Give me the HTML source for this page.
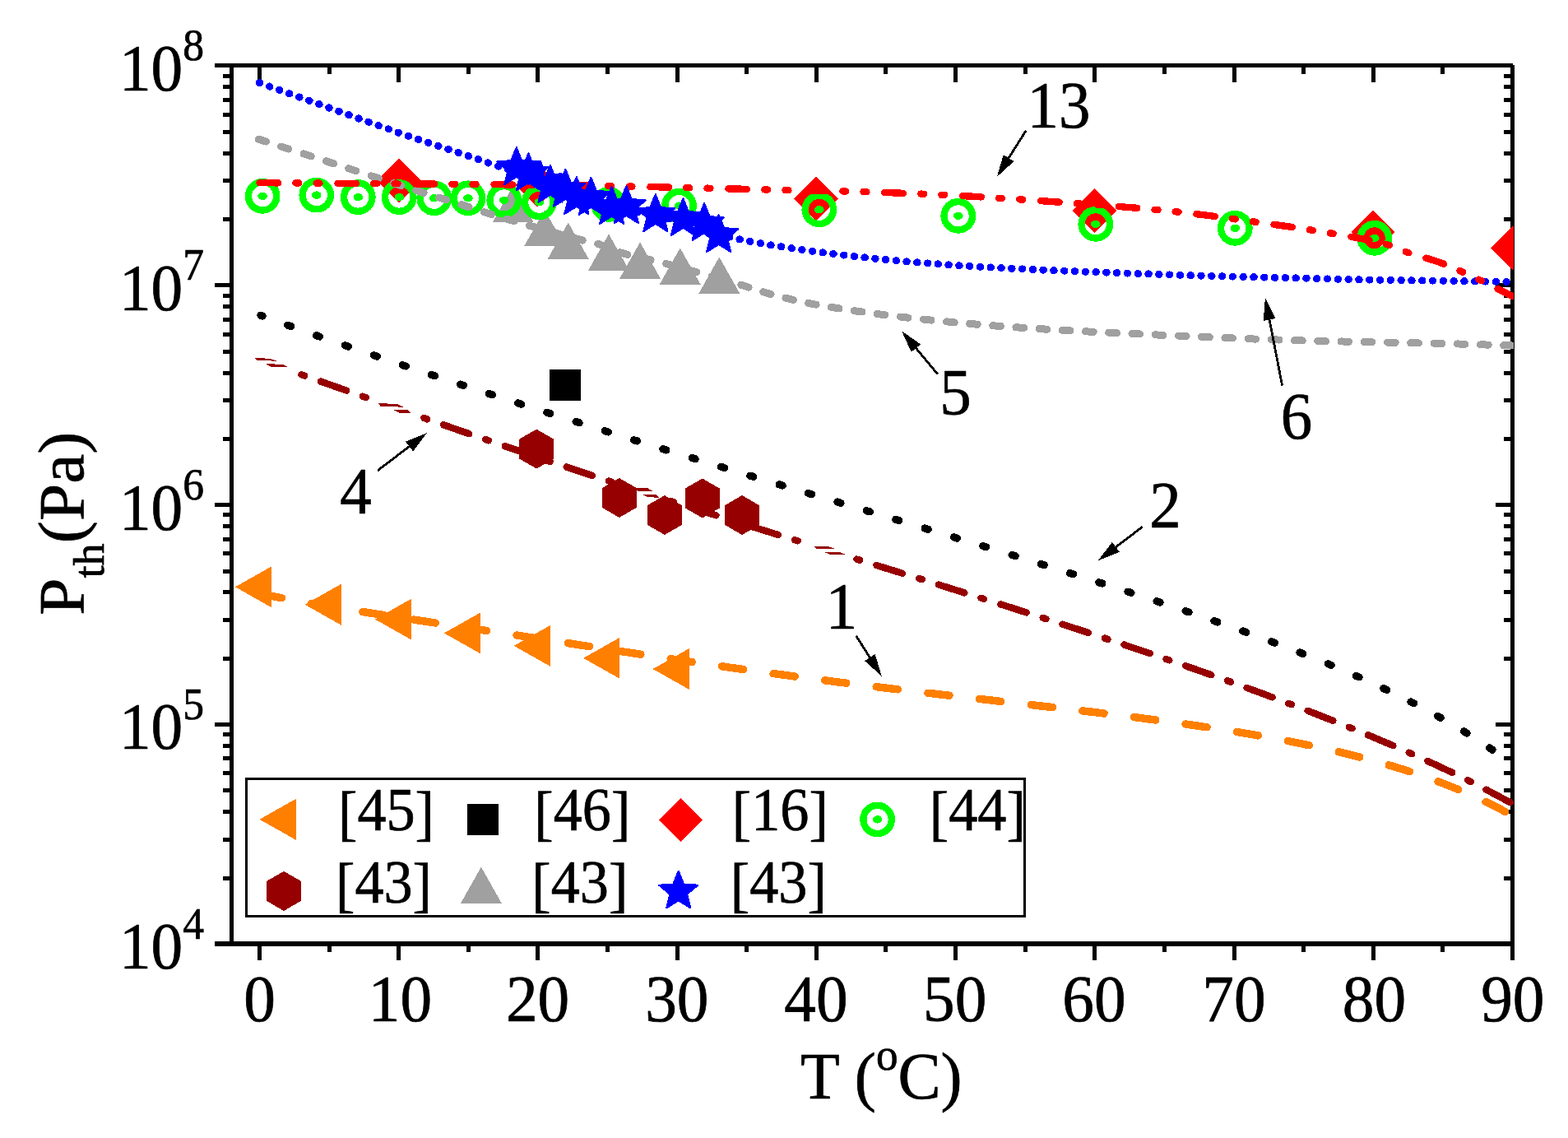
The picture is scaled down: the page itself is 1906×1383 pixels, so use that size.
<!DOCTYPE html>
<html lang="en"><head><meta charset="utf-8"><title>P_th (Pa) versus T</title>
<style>
html,body{margin:0;padding:0;background:#fff;}
body{width:1906px;height:1383px;overflow:hidden;}
svg{display:block;}
text{font-family:"Liberation Serif","Times New Roman",serif;fill:#000;stroke:#000;stroke-width:0.7px;stroke-linejoin:round;}
.tick{font-size:81px;}
.sup{font-size:54px;}
.leg{font-size:74.3px;}
.ann{font-size:81px;}
.ttl{font-size:79.3px;}
.ln{fill:none;stroke-linecap:round;stroke-linejoin:round;}
</style></head><body>
<svg width="1906" height="1383" viewBox="0 0 1906 1383">
<rect width="1906" height="1383" fill="#fff"/>
<defs>
<clipPath id="plot"><rect x="280" y="78" width="1560.1" height="1070"/></clipPath>
<polygon id="ltri" points="-29.53,0 14.77,-25.00 14.77,25.00"/>
<polygon id="utri" points="0,-29.53 25.00,14.77 -25.00,14.77"/>
<polygon id="dia" points="0,-26.7 26.7,0 0,26.7 -26.7,0"/>
<polygon id="lhex" points="0.00,-24.10 20.87,-12.05 20.87,12.05 0.00,24.10 -20.87,12.05 -20.87,-12.05"/>
<polygon id="hex" points="0.00,-24.00 20.78,-12.00 20.78,12.00 0.00,24.00 -20.78,12.00 -20.78,-12.00"/>
<polygon id="star" stroke="#0000ff" stroke-width="2.2" stroke-linejoin="round" points="0.00,-24.70 6.39,-8.79 23.49,-7.63 10.34,3.36 14.52,19.98 0.00,10.87 -14.52,19.98 -10.34,3.36 -23.49,-7.63 -6.39,-8.79"/>
<g id="circ"><circle r="17.2" fill="none" stroke="#00ff00" stroke-width="8.4"/><ellipse rx="5.8" ry="4.7" fill="#00ff00"/></g>
</defs>

<g fill="#000" shape-rendering="crispEdges">
<rect x="261.0" y="77.0" width="1578.0" height="5.0"/>
<rect x="261.0" y="1144.0" width="1580.0" height="6.0"/>
<rect x="279.0" y="77.0" width="5.0" height="1073.0"/>
<rect x="1836.0" y="79.0" width="5.0" height="1088.0"/>
<rect x="313.0" y="1150.0" width="5.0" height="17.0"/>
<rect x="313.0" y="82.0" width="5.0" height="18.0"/>
<rect x="398.0" y="1150.0" width="5.0" height="7.0"/>
<rect x="398.0" y="82.0" width="5.0" height="8.0"/>
<rect x="482.0" y="1150.0" width="5.0" height="17.0"/>
<rect x="482.0" y="82.0" width="5.0" height="18.0"/>
<rect x="567.0" y="1150.0" width="5.0" height="7.0"/>
<rect x="567.0" y="82.0" width="5.0" height="8.0"/>
<rect x="651.0" y="1150.0" width="5.0" height="17.0"/>
<rect x="651.0" y="82.0" width="5.0" height="18.0"/>
<rect x="736.0" y="1150.0" width="5.0" height="7.0"/>
<rect x="736.0" y="82.0" width="5.0" height="8.0"/>
<rect x="821.0" y="1150.0" width="5.0" height="17.0"/>
<rect x="821.0" y="82.0" width="5.0" height="18.0"/>
<rect x="905.0" y="1150.0" width="5.0" height="7.0"/>
<rect x="905.0" y="82.0" width="5.0" height="8.0"/>
<rect x="990.0" y="1150.0" width="5.0" height="17.0"/>
<rect x="990.0" y="82.0" width="5.0" height="18.0"/>
<rect x="1074.0" y="1150.0" width="5.0" height="7.0"/>
<rect x="1074.0" y="82.0" width="5.0" height="8.0"/>
<rect x="1159.0" y="1150.0" width="5.0" height="17.0"/>
<rect x="1159.0" y="82.0" width="5.0" height="18.0"/>
<rect x="1244.0" y="1150.0" width="5.0" height="7.0"/>
<rect x="1244.0" y="82.0" width="5.0" height="8.0"/>
<rect x="1328.0" y="1150.0" width="5.0" height="17.0"/>
<rect x="1328.0" y="82.0" width="5.0" height="18.0"/>
<rect x="1413.0" y="1150.0" width="5.0" height="7.0"/>
<rect x="1413.0" y="82.0" width="5.0" height="8.0"/>
<rect x="1498.0" y="1150.0" width="5.0" height="17.0"/>
<rect x="1498.0" y="82.0" width="5.0" height="18.0"/>
<rect x="1582.0" y="1150.0" width="5.0" height="7.0"/>
<rect x="1582.0" y="82.0" width="5.0" height="8.0"/>
<rect x="1667.0" y="1150.0" width="5.0" height="17.0"/>
<rect x="1667.0" y="82.0" width="5.0" height="18.0"/>
<rect x="1751.0" y="1150.0" width="5.0" height="7.0"/>
<rect x="1751.0" y="82.0" width="5.0" height="8.0"/>
<rect x="271.0" y="1065.0" width="8.0" height="5.0"/>
<rect x="1828.0" y="1065.0" width="8.0" height="5.0"/>
<rect x="271.0" y="1018.0" width="8.0" height="5.0"/>
<rect x="1828.0" y="1018.0" width="8.0" height="5.0"/>
<rect x="271.0" y="984.0" width="8.0" height="5.0"/>
<rect x="1828.0" y="984.0" width="8.0" height="5.0"/>
<rect x="271.0" y="958.0" width="8.0" height="5.0"/>
<rect x="1828.0" y="958.0" width="8.0" height="5.0"/>
<rect x="271.0" y="937.0" width="8.0" height="5.0"/>
<rect x="1828.0" y="937.0" width="8.0" height="5.0"/>
<rect x="271.0" y="919.0" width="8.0" height="5.0"/>
<rect x="1828.0" y="919.0" width="8.0" height="5.0"/>
<rect x="271.0" y="904.0" width="8.0" height="5.0"/>
<rect x="1828.0" y="904.0" width="8.0" height="5.0"/>
<rect x="271.0" y="890.0" width="8.0" height="5.0"/>
<rect x="1828.0" y="890.0" width="8.0" height="5.0"/>
<rect x="261.0" y="878.0" width="18.0" height="5.0"/>
<rect x="1818.0" y="878.0" width="18.0" height="5.0"/>
<rect x="271.0" y="798.0" width="8.0" height="5.0"/>
<rect x="1828.0" y="798.0" width="8.0" height="5.0"/>
<rect x="271.0" y="751.0" width="8.0" height="5.0"/>
<rect x="1828.0" y="751.0" width="8.0" height="5.0"/>
<rect x="271.0" y="717.0" width="8.0" height="5.0"/>
<rect x="1828.0" y="717.0" width="8.0" height="5.0"/>
<rect x="271.0" y="692.0" width="8.0" height="5.0"/>
<rect x="1828.0" y="692.0" width="8.0" height="5.0"/>
<rect x="271.0" y="670.0" width="8.0" height="5.0"/>
<rect x="1828.0" y="670.0" width="8.0" height="5.0"/>
<rect x="271.0" y="653.0" width="8.0" height="5.0"/>
<rect x="1828.0" y="653.0" width="8.0" height="5.0"/>
<rect x="271.0" y="637.0" width="8.0" height="5.0"/>
<rect x="1828.0" y="637.0" width="8.0" height="5.0"/>
<rect x="271.0" y="623.0" width="8.0" height="5.0"/>
<rect x="1828.0" y="623.0" width="8.0" height="5.0"/>
<rect x="261.0" y="611.0" width="18.0" height="5.0"/>
<rect x="1818.0" y="611.0" width="18.0" height="5.0"/>
<rect x="271.0" y="531.0" width="8.0" height="5.0"/>
<rect x="1828.0" y="531.0" width="8.0" height="5.0"/>
<rect x="271.0" y="484.0" width="8.0" height="5.0"/>
<rect x="1828.0" y="484.0" width="8.0" height="5.0"/>
<rect x="271.0" y="451.0" width="8.0" height="5.0"/>
<rect x="1828.0" y="451.0" width="8.0" height="5.0"/>
<rect x="271.0" y="425.0" width="8.0" height="5.0"/>
<rect x="1828.0" y="425.0" width="8.0" height="5.0"/>
<rect x="271.0" y="404.0" width="8.0" height="5.0"/>
<rect x="1828.0" y="404.0" width="8.0" height="5.0"/>
<rect x="271.0" y="386.0" width="8.0" height="5.0"/>
<rect x="1828.0" y="386.0" width="8.0" height="5.0"/>
<rect x="271.0" y="370.0" width="8.0" height="5.0"/>
<rect x="1828.0" y="370.0" width="8.0" height="5.0"/>
<rect x="271.0" y="357.0" width="8.0" height="5.0"/>
<rect x="1828.0" y="357.0" width="8.0" height="5.0"/>
<rect x="261.0" y="344.0" width="18.0" height="5.0"/>
<rect x="1818.0" y="344.0" width="18.0" height="5.0"/>
<rect x="271.0" y="264.0" width="8.0" height="5.0"/>
<rect x="1828.0" y="264.0" width="8.0" height="5.0"/>
<rect x="271.0" y="217.0" width="8.0" height="5.0"/>
<rect x="1828.0" y="217.0" width="8.0" height="5.0"/>
<rect x="271.0" y="184.0" width="8.0" height="5.0"/>
<rect x="1828.0" y="184.0" width="8.0" height="5.0"/>
<rect x="271.0" y="158.0" width="8.0" height="5.0"/>
<rect x="1828.0" y="158.0" width="8.0" height="5.0"/>
<rect x="271.0" y="137.0" width="8.0" height="5.0"/>
<rect x="1828.0" y="137.0" width="8.0" height="5.0"/>
<rect x="271.0" y="119.0" width="8.0" height="5.0"/>
<rect x="1828.0" y="119.0" width="8.0" height="5.0"/>
<rect x="271.0" y="103.0" width="8.0" height="5.0"/>
<rect x="1828.0" y="103.0" width="8.0" height="5.0"/>
<rect x="271.0" y="90.0" width="8.0" height="5.0"/>
<rect x="1828.0" y="90.0" width="8.0" height="5.0"/>
</g>
<g clip-path="url(#plot)" shape-rendering="crispEdges">
<g fill="#ff8000"><use href="#ltri" x="315.4" y="713.3"/><use href="#ltri" x="400.0" y="734.7"/><use href="#ltri" x="485.4" y="752.6"/><use href="#ltri" x="569.3" y="769.4"/><use href="#ltri" x="654.2" y="784.9"/><use href="#ltri" x="738.6" y="799.8"/><use href="#ltri" x="823.1" y="813.0"/></g>
<g fill="#000"><rect x="668.2" y="449.0" width="38" height="38"/></g>
<g fill="#960000"><use href="#hex" x="652.2" y="545.6"/><use href="#hex" x="752.8" y="605.0"/><use href="#hex" x="807.9" y="626.0"/><use href="#hex" x="853.8" y="605.5"/><use href="#hex" x="902.0" y="626.0"/></g>
<g fill="#a0a0a0"><use href="#utri" x="623.7" y="255.6"/><use href="#utri" x="662.0" y="284.6"/><use href="#utri" x="690.7" y="300.0"/><use href="#utri" x="740.0" y="314.0"/><use href="#utri" x="778.0" y="324.0"/><use href="#utri" x="826.7" y="331.0"/><use href="#utri" x="874.3" y="342.0"/></g>
<g fill="#ff0000"><use href="#dia" x="485.0" y="219.7"/><use href="#dia" x="653.0" y="225.0"/><use href="#dia" x="992.0" y="241.5"/><use href="#dia" x="1330.5" y="256.0"/><use href="#dia" x="1669.0" y="282.0"/><use href="#dia" x="1838.7" y="301.1"/></g>
<g><use href="#circ" x="319.1" y="238.3"/><use href="#circ" x="384.8" y="237.1"/><use href="#circ" x="435.3" y="239.6"/><use href="#circ" x="485.3" y="239.6"/><use href="#circ" x="527.8" y="240.8"/><use href="#circ" x="569.0" y="240.8"/><use href="#circ" x="612.8" y="243.3"/><use href="#circ" x="655.3" y="245.8"/><use href="#circ" x="739.7" y="248.4"/><use href="#circ" x="825.5" y="250.1"/><use href="#circ" x="995.8" y="254.8"/><use href="#circ" x="1164.8" y="262.3"/><use href="#circ" x="1331.8" y="272.3"/><use href="#circ" x="1501.3" y="277.3"/><use href="#circ" x="1670.8" y="289.3"/></g>
<path class="ln" d="M315.5,721.3 L318.5,721.9 L321.5,722.5 L324.5,723.2 L327.5,723.8 L330.5,724.4 L333.5,725.0 L336.5,725.6 L339.5,726.2 L342.5,726.8 L345.5,727.3 L348.5,727.9 L351.5,728.5 L354.5,729.0 L357.5,729.6 L360.5,730.1 L363.5,730.7 L366.5,731.2 L369.5,731.8 L372.5,732.3 L375.5,732.8 L378.5,733.4 L381.5,733.9 L384.5,734.4 L387.5,734.9 L390.5,735.4 L393.5,735.9 L396.5,736.4 L399.5,736.9 L402.5,737.4 L405.5,737.9 L408.5,738.4 L411.5,738.9 L414.5,739.4 L417.5,739.9 L420.5,740.4 L423.5,740.8 L426.5,741.3 L429.5,741.8 L432.5,742.3 L435.5,742.7 L438.5,743.2 L441.5,743.7 L444.5,744.1 L447.5,744.6 L450.5,745.1 L453.5,745.5 L456.5,746.0 L459.5,746.5 L462.5,746.9 L465.5,747.4 L468.5,747.8 L471.5,748.3 L474.5,748.8 L477.5,749.2 L480.5,749.7 L483.5,750.1 L486.5,750.6 L489.5,751.0 L492.5,751.5 L495.5,751.9 L498.5,752.4 L501.5,752.8 L504.5,753.3 L507.5,753.8 L510.5,754.2 L513.5,754.7 L516.5,755.1 L519.5,755.6 L522.5,756.0 L525.5,756.5 L528.5,756.9 L531.5,757.4 L534.5,757.8 L537.5,758.3 L540.5,758.7 L543.5,759.2 L546.5,759.6 L549.5,760.1 L552.5,760.5 L555.5,761.0 L558.5,761.4 L561.5,761.9 L564.5,762.3 L567.5,762.8 L570.5,763.3 L573.5,763.7 L576.5,764.2 L579.5,764.6 L582.5,765.1 L585.5,765.5 L588.5,766.0 L591.5,766.4 L594.5,766.9 L597.5,767.4 L600.5,767.8 L603.5,768.3 L606.5,768.7 L609.5,769.2 L612.5,769.7 L615.5,770.1 L618.5,770.6 L621.5,771.0 L624.5,771.5 L627.5,771.9 L630.5,772.4 L633.5,772.9 L636.5,773.3 L639.5,773.8 L642.5,774.3 L645.5,774.7 L648.5,775.2 L651.5,775.6 L654.5,776.1 L657.5,776.6 L660.5,777.0 L663.5,777.5 L666.5,777.9 L669.5,778.4 L672.5,778.9 L675.5,779.3 L678.5,779.8 L681.5,780.3 L684.5,780.7 L687.5,781.2 L690.5,781.7 L693.5,782.1 L696.5,782.6 L699.5,783.0 L702.5,783.5 L705.5,784.0 L708.5,784.4 L711.5,784.9 L714.5,785.4 L717.5,785.8 L720.5,786.3 L723.5,786.7 L726.5,787.2 L729.5,787.7 L732.5,788.1 L735.5,788.6 L738.5,789.1 L741.5,789.5 L744.5,790.0 L747.5,790.4 L750.5,790.9 L753.5,791.4 L756.5,791.8 L759.5,792.3 L762.5,792.7 L765.5,793.2 L768.5,793.6 L771.5,794.1 L774.5,794.6 L777.5,795.0 L780.5,795.5 L783.5,795.9 L786.5,796.4 L789.5,796.8 L792.5,797.3 L795.5,797.7 L798.5,798.2 L801.5,798.6 L804.5,799.1 L807.5,799.5 L810.5,800.0 L813.5,800.4 L816.5,800.9 L819.5,801.3 L822.5,801.8 L825.5,802.2 L828.5,802.7 L831.5,803.1 L834.5,803.6 L837.5,804.0 L840.5,804.4 L843.5,804.9 L846.5,805.3 L849.5,805.8 L852.5,806.2 L855.5,806.6 L858.5,807.1 L861.5,807.5 L864.5,807.9 L867.5,808.4 L870.5,808.8 L873.5,809.2 L876.5,809.7 L879.5,810.1 L882.5,810.5 L885.5,811.0 L888.5,811.4 L891.5,811.8 L894.5,812.2 L897.5,812.7 L900.5,813.1 L903.5,813.5 L906.5,813.9 L909.5,814.4 L912.5,814.8 L915.5,815.2 L918.5,815.6 L921.5,816.0 L924.5,816.4 L927.5,816.9 L930.5,817.3 L933.5,817.7 L936.5,818.1 L939.5,818.5 L942.5,818.9 L945.5,819.3 L948.5,819.7 L951.5,820.1 L954.5,820.5 L957.5,820.9 L960.5,821.3 L963.5,821.7 L966.5,822.1 L969.5,822.5 L972.5,822.9 L975.5,823.3 L978.5,823.7 L981.5,824.1 L984.5,824.5 L987.5,824.9 L990.5,825.3 L993.5,825.7 L996.5,826.1 L999.5,826.5 L1002.5,826.9 L1005.5,827.2 L1008.5,827.6 L1011.5,828.0 L1014.5,828.4 L1017.5,828.8 L1020.5,829.2 L1023.5,829.5 L1026.5,829.9 L1029.5,830.3 L1032.5,830.7 L1035.5,831.0 L1038.5,831.4 L1041.5,831.8 L1044.5,832.2 L1047.5,832.5 L1050.5,832.9 L1053.5,833.3 L1056.5,833.6 L1059.5,834.0 L1062.5,834.4 L1065.5,834.7 L1068.5,835.1 L1071.5,835.5 L1074.5,835.8 L1077.5,836.2 L1080.5,836.6 L1083.5,836.9 L1086.5,837.3 L1089.5,837.6 L1092.5,838.0 L1095.5,838.4 L1098.5,838.7 L1101.5,839.1 L1104.5,839.4 L1107.5,839.8 L1110.5,840.1 L1113.5,840.5 L1116.5,840.8 L1119.5,841.2 L1122.5,841.6 L1125.5,841.9 L1128.5,842.3 L1131.5,842.6 L1134.5,843.0 L1137.5,843.3 L1140.5,843.7 L1143.5,844.0 L1146.5,844.4 L1149.5,844.7 L1152.5,845.0 L1155.5,845.4 L1158.5,845.7 L1161.5,846.1 L1164.5,846.4 L1167.5,846.8 L1170.5,847.1 L1173.5,847.5 L1176.5,847.8 L1179.5,848.1 L1182.5,848.5 L1185.5,848.8 L1188.5,849.2 L1191.5,849.5 L1194.5,849.9 L1197.5,850.2 L1200.5,850.5 L1203.5,850.9 L1206.5,851.2 L1209.5,851.6 L1212.5,851.9 L1215.5,852.3 L1218.5,852.6 L1221.5,852.9 L1224.5,853.3 L1227.5,853.6 L1230.5,854.0 L1233.5,854.3 L1236.5,854.7 L1239.5,855.0 L1242.5,855.3 L1245.5,855.7 L1248.5,856.0 L1251.5,856.4 L1254.5,856.7 L1257.5,857.1 L1260.5,857.4 L1263.5,857.8 L1266.5,858.1 L1269.5,858.4 L1272.5,858.8 L1275.5,859.1 L1278.5,859.5 L1281.5,859.8 L1284.5,860.2 L1287.5,860.5 L1290.5,860.9 L1293.5,861.2 L1296.5,861.6 L1299.5,861.9 L1302.5,862.3 L1305.5,862.6 L1308.5,863.0 L1311.5,863.4 L1314.5,863.7 L1317.5,864.1 L1320.5,864.4 L1323.5,864.8 L1326.5,865.1 L1329.5,865.5 L1332.5,865.9 L1335.5,866.2 L1338.5,866.6 L1341.5,867.0 L1344.5,867.3 L1347.5,867.7 L1350.5,868.1 L1353.5,868.4 L1356.5,868.8 L1359.5,869.2 L1362.5,869.6 L1365.5,869.9 L1368.5,870.3 L1371.5,870.7 L1374.5,871.1 L1377.5,871.5 L1380.5,871.8 L1383.5,872.2 L1386.5,872.6 L1389.5,873.0 L1392.5,873.4 L1395.5,873.8 L1398.5,874.2 L1401.5,874.6 L1404.5,875.0 L1407.5,875.4 L1410.5,875.8 L1413.5,876.2 L1416.5,876.6 L1419.5,877.0 L1422.5,877.4 L1425.5,877.8 L1428.5,878.2 L1431.5,878.7 L1434.5,879.1 L1437.5,879.5 L1440.5,879.9 L1443.5,880.4 L1446.5,880.8 L1449.5,881.2 L1452.5,881.7 L1455.5,882.1 L1458.5,882.5 L1461.5,883.0 L1464.5,883.4 L1467.5,883.9 L1470.5,884.3 L1473.5,884.8 L1476.5,885.2 L1479.5,885.7 L1482.5,886.2 L1485.5,886.6 L1488.5,887.1 L1491.5,887.6 L1494.5,888.1 L1497.5,888.5 L1500.5,889.0 L1503.5,889.5 L1506.5,890.0 L1509.5,890.5 L1512.5,891.0 L1515.5,891.5 L1518.5,892.0 L1521.5,892.5 L1524.5,893.0 L1527.5,893.6 L1530.5,894.1 L1533.5,894.6 L1536.5,895.2 L1539.5,895.7 L1542.5,896.2 L1545.5,896.8 L1548.5,897.3 L1551.5,897.9 L1554.5,898.4 L1557.5,899.0 L1560.5,899.6 L1563.5,900.2 L1566.5,900.7 L1569.5,901.3 L1572.5,901.9 L1575.5,902.5 L1578.5,903.1 L1581.5,903.7 L1584.5,904.3 L1587.5,905.0 L1590.5,905.6 L1593.5,906.2 L1596.5,906.9 L1599.5,907.5 L1602.5,908.1 L1605.5,908.8 L1608.5,909.5 L1611.5,910.1 L1614.5,910.8 L1617.5,911.5 L1620.5,912.2 L1623.5,912.9 L1626.5,913.6 L1629.5,914.3 L1632.5,915.0 L1635.5,915.7 L1638.5,916.5 L1641.5,917.2 L1644.5,918.0 L1647.5,918.7 L1650.5,919.5 L1653.5,920.3 L1656.5,921.0 L1659.5,921.8 L1662.5,922.6 L1665.5,923.4 L1668.5,924.3 L1671.5,925.1 L1674.5,925.9 L1677.5,926.8 L1680.5,927.6 L1683.5,928.5 L1686.5,929.4 L1689.5,930.2 L1692.5,931.1 L1695.5,932.1 L1698.5,933.0 L1701.5,933.9 L1704.5,934.8 L1707.5,935.8 L1710.5,936.7 L1713.5,937.7 L1716.5,938.7 L1719.5,939.7 L1722.5,940.7 L1725.5,941.7 L1728.5,942.8 L1731.5,943.8 L1734.5,944.9 L1737.5,945.9 L1740.5,947.0 L1743.5,948.1 L1746.5,949.2 L1749.5,950.3 L1752.5,951.5 L1755.5,952.6 L1758.5,953.8 L1761.5,955.0 L1764.5,956.2 L1767.5,957.4 L1770.5,958.6 L1773.5,959.9 L1776.5,961.1 L1779.5,962.4 L1782.5,963.7 L1785.5,965.0 L1788.5,966.3 L1791.5,967.7 L1794.5,969.1 L1797.5,970.4 L1800.5,971.8 L1803.5,973.3 L1806.5,974.7 L1809.5,976.2 L1812.5,977.6 L1815.5,979.1 L1818.5,980.6 L1821.5,982.2 L1824.5,983.7 L1827.5,985.3 L1830.5,986.9 L1833.5,988.5 L1836.5,990.2 L1839.5,991.9 L1840.0,992.1" stroke="#ff8000" stroke-width="9.4" stroke-dasharray="26.4 36.7" stroke-dashoffset="-1.2"/>
<path class="ln" d="M317.0,383.2 L320.0,384.4 L323.0,385.5 L326.0,386.6 L329.0,387.7 L332.0,388.8 L335.0,389.9 L338.0,391.0 L341.0,392.1 L344.0,393.2 L347.0,394.3 L350.0,395.3 L353.0,396.4 L356.0,397.5 L359.0,398.6 L362.0,399.7 L365.0,400.7 L368.0,401.8 L371.0,402.9 L374.0,403.9 L377.0,405.0 L380.0,406.1 L383.0,407.1 L386.0,408.2 L389.0,409.2 L392.0,410.3 L395.0,411.3 L398.0,412.4 L401.0,413.4 L404.0,414.5 L407.0,415.5 L410.0,416.6 L413.0,417.6 L416.0,418.7 L419.0,419.7 L422.0,420.7 L425.0,421.8 L428.0,422.8 L431.0,423.8 L434.0,424.9 L437.0,425.9 L440.0,426.9 L443.0,428.0 L446.0,429.0 L449.0,430.0 L452.0,431.0 L455.0,432.1 L458.0,433.1 L461.0,434.1 L464.0,435.1 L467.0,436.1 L470.0,437.1 L473.0,438.2 L476.0,439.2 L479.0,440.2 L482.0,441.2 L485.0,442.2 L488.0,443.2 L491.0,444.2 L494.0,445.2 L497.0,446.2 L500.0,447.3 L503.0,448.3 L506.0,449.3 L509.0,450.3 L512.0,451.3 L515.0,452.3 L518.0,453.3 L521.0,454.3 L524.0,455.3 L527.0,456.3 L530.0,457.3 L533.0,458.3 L536.0,459.3 L539.0,460.3 L542.0,461.2 L545.0,462.2 L548.0,463.2 L551.0,464.2 L554.0,465.2 L557.0,466.2 L560.0,467.2 L563.0,468.2 L566.0,469.2 L569.0,470.2 L572.0,471.1 L575.0,472.1 L578.0,473.1 L581.0,474.1 L584.0,475.1 L587.0,476.1 L590.0,477.0 L593.0,478.0 L596.0,479.0 L599.0,480.0 L602.0,481.0 L605.0,481.9 L608.0,482.9 L611.0,483.9 L614.0,484.9 L617.0,485.8 L620.0,486.8 L623.0,487.8 L626.0,488.8 L629.0,489.7 L632.0,490.7 L635.0,491.7 L638.0,492.6 L641.0,493.6 L644.0,494.6 L647.0,495.5 L650.0,496.5 L653.0,497.5 L656.0,498.4 L659.0,499.4 L662.0,500.4 L665.0,501.3 L668.0,502.3 L671.0,503.3 L674.0,504.2 L677.0,505.2 L680.0,506.1 L683.0,507.1 L686.0,508.1 L689.0,509.0 L692.0,510.0 L695.0,510.9 L698.0,511.9 L701.0,512.8 L704.0,513.8 L707.0,514.7 L710.0,515.7 L713.0,516.6 L716.0,517.6 L719.0,518.5 L722.0,519.5 L725.0,520.4 L728.0,521.4 L731.0,522.3 L734.0,523.3 L737.0,524.2 L740.0,525.2 L743.0,526.1 L746.0,527.0 L749.0,528.0 L752.0,528.9 L755.0,529.9 L758.0,530.8 L761.0,531.7 L764.0,532.7 L767.0,533.6 L770.0,534.6 L773.0,535.5 L776.0,536.4 L779.0,537.4 L782.0,538.3 L785.0,539.2 L788.0,540.2 L791.0,541.1 L794.0,542.0 L797.0,543.0 L800.0,543.9 L803.0,544.8 L806.0,545.7 L809.0,546.7 L812.0,547.6 L815.0,548.5 L818.0,549.5 L821.0,550.4 L824.0,551.3 L827.0,552.2 L830.0,553.2 L833.0,554.1 L836.0,555.0 L839.0,555.9 L842.0,556.8 L845.0,557.8 L848.0,558.7 L851.0,559.6 L854.0,560.5 L857.0,561.4 L860.0,562.4 L863.0,563.3 L866.0,564.2 L869.0,565.1 L872.0,566.0 L875.0,566.9 L878.0,567.8 L881.0,568.8 L884.0,569.7 L887.0,570.6 L890.0,571.5 L893.0,572.4 L896.0,573.3 L899.0,574.2 L902.0,575.1 L905.0,576.1 L908.0,577.0 L911.0,577.9 L914.0,578.8 L917.0,579.7 L920.0,580.6 L923.0,581.5 L926.0,582.4 L929.0,583.3 L932.0,584.2 L935.0,585.1 L938.0,586.0 L941.0,586.9 L944.0,587.9 L947.0,588.8 L950.0,589.7 L953.0,590.6 L956.0,591.5 L959.0,592.4 L962.0,593.3 L965.0,594.2 L968.0,595.1 L971.0,596.0 L974.0,596.9 L977.0,597.8 L980.0,598.7 L983.0,599.6 L986.0,600.5 L989.0,601.4 L992.0,602.3 L995.0,603.2 L998.0,604.1 L1001.0,605.0 L1004.0,605.9 L1007.0,606.8 L1010.0,607.7 L1013.0,608.6 L1016.0,609.5 L1019.0,610.4 L1022.0,611.3 L1025.0,612.2 L1028.0,613.1 L1031.0,614.0 L1034.0,614.9 L1037.0,615.8 L1040.0,616.7 L1043.0,617.6 L1046.0,618.5 L1049.0,619.4 L1052.0,620.3 L1055.0,621.2 L1058.0,622.1 L1061.0,623.0 L1064.0,623.9 L1067.0,624.8 L1070.0,625.7 L1073.0,626.7 L1076.0,627.6 L1079.0,628.5 L1082.0,629.4 L1085.0,630.3 L1088.0,631.2 L1091.0,632.1 L1094.0,633.0 L1097.0,633.9 L1100.0,634.8 L1103.0,635.7 L1106.0,636.6 L1109.0,637.5 L1112.0,638.4 L1115.0,639.3 L1118.0,640.2 L1121.0,641.1 L1124.0,642.0 L1127.0,642.9 L1130.0,643.9 L1133.0,644.8 L1136.0,645.7 L1139.0,646.6 L1142.0,647.5 L1145.0,648.4 L1148.0,649.3 L1151.0,650.2 L1154.0,651.1 L1157.0,652.0 L1160.0,653.0 L1163.0,653.9 L1166.0,654.8 L1169.0,655.7 L1172.0,656.6 L1175.0,657.5 L1178.0,658.4 L1181.0,659.4 L1184.0,660.3 L1187.0,661.2 L1190.0,662.1 L1193.0,663.0 L1196.0,664.0 L1199.0,664.9 L1202.0,665.8 L1205.0,666.7 L1208.0,667.6 L1211.0,668.6 L1214.0,669.5 L1217.0,670.4 L1220.0,671.3 L1223.0,672.3 L1226.0,673.2 L1229.0,674.1 L1232.0,675.1 L1235.0,676.0 L1238.0,676.9 L1241.0,677.8 L1244.0,678.8 L1247.0,679.7 L1250.0,680.6 L1253.0,681.6 L1256.0,682.5 L1259.0,683.4 L1262.0,684.4 L1265.0,685.3 L1268.0,686.3 L1271.0,687.2 L1274.0,688.1 L1277.0,689.1 L1280.0,690.0 L1283.0,691.0 L1286.0,691.9 L1289.0,692.9 L1292.0,693.8 L1295.0,694.8 L1298.0,695.7 L1301.0,696.7 L1304.0,697.6 L1307.0,698.6 L1310.0,699.5 L1313.0,700.5 L1316.0,701.4 L1319.0,702.4 L1322.0,703.3 L1325.0,704.3 L1328.0,705.3 L1331.0,706.2 L1334.0,707.2 L1337.0,708.2 L1340.0,709.1 L1343.0,710.1 L1346.0,711.1 L1349.0,712.0 L1352.0,713.0 L1355.0,714.0 L1358.0,714.9 L1361.0,715.9 L1364.0,716.9 L1367.0,717.9 L1370.0,718.8 L1373.0,719.8 L1376.0,720.8 L1379.0,721.8 L1382.0,722.8 L1385.0,723.8 L1388.0,724.8 L1391.0,725.7 L1394.0,726.7 L1397.0,727.7 L1400.0,728.7 L1403.0,729.7 L1406.0,730.7 L1409.0,731.7 L1412.0,732.7 L1415.0,733.7 L1418.0,734.7 L1421.0,735.7 L1424.0,736.8 L1427.0,737.8 L1430.0,738.8 L1433.0,739.8 L1436.0,740.8 L1439.0,741.8 L1442.0,742.9 L1445.0,743.9 L1448.0,744.9 L1451.0,745.9 L1454.0,747.0 L1457.0,748.0 L1460.0,749.0 L1463.0,750.1 L1466.0,751.1 L1469.0,752.2 L1472.0,753.2 L1475.0,754.3 L1478.0,755.3 L1481.0,756.4 L1484.0,757.4 L1487.0,758.5 L1490.0,759.5 L1493.0,760.6 L1496.0,761.7 L1499.0,762.7 L1502.0,763.8 L1505.0,764.9 L1508.0,766.0 L1511.0,767.1 L1514.0,768.1 L1517.0,769.2 L1520.0,770.3 L1523.0,771.4 L1526.0,772.5 L1529.0,773.6 L1532.0,774.7 L1535.0,775.8 L1538.0,777.0 L1541.0,778.1 L1544.0,779.2 L1547.0,780.3 L1550.0,781.5 L1553.0,782.6 L1556.0,783.7 L1559.0,784.9 L1562.0,786.0 L1565.0,787.2 L1568.0,788.3 L1571.0,789.5 L1574.0,790.7 L1577.0,791.8 L1580.0,793.0 L1583.0,794.2 L1586.0,795.4 L1589.0,796.6 L1592.0,797.8 L1595.0,799.0 L1598.0,800.2 L1601.0,801.4 L1604.0,802.6 L1607.0,803.8 L1610.0,805.0 L1613.0,806.3 L1616.0,807.5 L1619.0,808.8 L1622.0,810.0 L1625.0,811.3 L1628.0,812.5 L1631.0,813.8 L1634.0,815.1 L1637.0,816.4 L1640.0,817.7 L1643.0,819.0 L1646.0,820.3 L1649.0,821.6 L1652.0,822.9 L1655.0,824.3 L1658.0,825.6 L1661.0,827.0 L1664.0,828.3 L1667.0,829.7 L1670.0,831.1 L1673.0,832.4 L1676.0,833.8 L1679.0,835.2 L1682.0,836.7 L1685.0,838.1 L1688.0,839.5 L1691.0,840.9 L1694.0,842.4 L1697.0,843.9 L1700.0,845.3 L1703.0,846.8 L1706.0,848.3 L1709.0,849.8 L1712.0,851.3 L1715.0,852.9 L1718.0,854.4 L1721.0,855.9 L1724.0,857.5 L1727.0,859.1 L1730.0,860.7 L1733.0,862.3 L1736.0,863.9 L1739.0,865.5 L1742.0,867.2 L1745.0,868.8 L1748.0,870.5 L1751.0,872.2 L1754.0,873.9 L1757.0,875.6 L1760.0,877.3 L1763.0,879.0 L1766.0,880.8 L1769.0,882.6 L1772.0,884.4 L1775.0,886.2 L1778.0,888.0 L1781.0,889.8 L1784.0,891.7 L1787.0,893.6 L1790.0,895.5 L1793.0,897.4 L1796.0,899.3 L1799.0,901.3 L1802.0,903.2 L1805.0,905.2 L1808.0,907.3 L1811.0,909.3 L1814.0,911.3 L1817.0,913.4 L1817.4,913.7" stroke="#000000" stroke-width="9.2" stroke-dasharray="4.2 32.75" stroke-dashoffset="2.1"/>
<clipPath id="drclip"><path clip-rule="evenodd" d="M0,0H1906V1383H0ZM304,428.4L356,442.6L356,460.6L304,446.4ZM455,477.7L506,495.7L506,513.7L455,495.7ZM756,580.7L806,596.9L806,614.9L756,598.7ZM981,651.9L1032,667.7L1032,685.7L981,669.9Z"/></clipPath>
<path class="ln" d="M315.5,437.4 L318.5,438.4 L321.5,439.5 L324.5,440.5 L327.5,441.6 L330.5,442.6 L333.5,443.7 L336.5,444.7 L339.5,445.8 L342.5,446.8 L345.5,447.9 L348.5,448.9 L351.5,450.0 L354.5,451.1 L357.5,452.1 L360.5,453.2 L363.5,454.2 L366.5,455.3 L369.5,456.4 L372.5,457.4 L375.5,458.5 L378.5,459.5 L381.5,460.6 L384.5,461.7 L387.5,462.7 L390.5,463.8 L393.5,464.9 L396.5,465.9 L399.5,467.0 L402.5,468.0 L405.5,469.1 L408.5,470.2 L411.5,471.2 L414.5,472.3 L417.5,473.4 L420.5,474.4 L423.5,475.5 L426.5,476.6 L429.5,477.6 L432.5,478.7 L435.5,479.8 L438.5,480.8 L441.5,481.9 L444.5,483.0 L447.5,484.0 L450.5,485.1 L453.5,486.1 L456.5,487.2 L459.5,488.3 L462.5,489.3 L465.5,490.4 L468.5,491.5 L471.5,492.5 L474.5,493.6 L477.5,494.6 L480.5,495.7 L483.5,496.8 L486.5,497.8 L489.5,498.9 L492.5,499.9 L495.5,501.0 L498.5,502.1 L501.5,503.1 L504.5,504.2 L507.5,505.2 L510.5,506.3 L513.5,507.3 L516.5,508.4 L519.5,509.5 L522.5,510.5 L525.5,511.6 L528.5,512.6 L531.5,513.7 L534.5,514.7 L537.5,515.8 L540.5,516.8 L543.5,517.9 L546.5,518.9 L549.5,520.0 L552.5,521.0 L555.5,522.1 L558.5,523.1 L561.5,524.1 L564.5,525.2 L567.5,526.2 L570.5,527.3 L573.5,528.3 L576.5,529.4 L579.5,530.4 L582.5,531.4 L585.5,532.5 L588.5,533.5 L591.5,534.5 L594.5,535.6 L597.5,536.6 L600.5,537.6 L603.5,538.7 L606.5,539.7 L609.5,540.7 L612.5,541.8 L615.5,542.8 L618.5,543.8 L621.5,544.8 L624.5,545.9 L627.5,546.9 L630.5,547.9 L633.5,548.9 L636.5,550.0 L639.5,551.0 L642.5,552.0 L645.5,553.0 L648.5,554.0 L651.5,555.0 L654.5,556.1 L657.5,557.1 L660.5,558.1 L663.5,559.1 L666.5,560.1 L669.5,561.1 L672.5,562.1 L675.5,563.1 L678.5,564.1 L681.5,565.1 L684.5,566.1 L687.5,567.1 L690.5,568.1 L693.5,569.1 L696.5,570.1 L699.5,571.1 L702.5,572.1 L705.5,573.1 L708.5,574.1 L711.5,575.1 L714.5,576.1 L717.5,577.1 L720.5,578.1 L723.5,579.1 L726.5,580.1 L729.5,581.1 L732.5,582.0 L735.5,583.0 L738.5,584.0 L741.5,585.0 L744.5,586.0 L747.5,587.0 L750.5,587.9 L753.5,588.9 L756.5,589.9 L759.5,590.9 L762.5,591.8 L765.5,592.8 L768.5,593.8 L771.5,594.8 L774.5,595.7 L777.5,596.7 L780.5,597.7 L783.5,598.7 L786.5,599.6 L789.5,600.6 L792.5,601.6 L795.5,602.5 L798.5,603.5 L801.5,604.4 L804.5,605.4 L807.5,606.4 L810.5,607.3 L813.5,608.3 L816.5,609.3 L819.5,610.2 L822.5,611.2 L825.5,612.1 L828.5,613.1 L831.5,614.0 L834.5,615.0 L837.5,615.9 L840.5,616.9 L843.5,617.9 L846.5,618.8 L849.5,619.8 L852.5,620.7 L855.5,621.7 L858.5,622.6 L861.5,623.5 L864.5,624.5 L867.5,625.4 L870.5,626.4 L873.5,627.3 L876.5,628.3 L879.5,629.2 L882.5,630.2 L885.5,631.1 L888.5,632.0 L891.5,633.0 L894.5,633.9 L897.5,634.9 L900.5,635.8 L903.5,636.8 L906.5,637.7 L909.5,638.6 L912.5,639.6 L915.5,640.5 L918.5,641.4 L921.5,642.4 L924.5,643.3 L927.5,644.2 L930.5,645.2 L933.5,646.1 L936.5,647.0 L939.5,648.0 L942.5,648.9 L945.5,649.8 L948.5,650.8 L951.5,651.7 L954.5,652.6 L957.5,653.6 L960.5,654.5 L963.5,655.4 L966.5,656.4 L969.5,657.3 L972.5,658.2 L975.5,659.2 L978.5,660.1 L981.5,661.0 L984.5,662.0 L987.5,662.9 L990.5,663.8 L993.5,664.7 L996.5,665.7 L999.5,666.6 L1002.5,667.5 L1005.5,668.5 L1008.5,669.4 L1011.5,670.3 L1014.5,671.2 L1017.5,672.2 L1020.5,673.1 L1023.5,674.0 L1026.5,675.0 L1029.5,675.9 L1032.5,676.8 L1035.5,677.7 L1038.5,678.7 L1041.5,679.6 L1044.5,680.5 L1047.5,681.5 L1050.5,682.4 L1053.5,683.3 L1056.5,684.3 L1059.5,685.2 L1062.5,686.1 L1065.5,687.0 L1068.5,688.0 L1071.5,688.9 L1074.5,689.8 L1077.5,690.8 L1080.5,691.7 L1083.5,692.6 L1086.5,693.6 L1089.5,694.5 L1092.5,695.4 L1095.5,696.4 L1098.5,697.3 L1101.5,698.2 L1104.5,699.2 L1107.5,700.1 L1110.5,701.0 L1113.5,702.0 L1116.5,702.9 L1119.5,703.8 L1122.5,704.8 L1125.5,705.7 L1128.5,706.7 L1131.5,707.6 L1134.5,708.5 L1137.5,709.5 L1140.5,710.4 L1143.5,711.3 L1146.5,712.3 L1149.5,713.2 L1152.5,714.2 L1155.5,715.1 L1158.5,716.1 L1161.5,717.0 L1164.5,717.9 L1167.5,718.9 L1170.5,719.8 L1173.5,720.8 L1176.5,721.7 L1179.5,722.7 L1182.5,723.6 L1185.5,724.6 L1188.5,725.5 L1191.5,726.5 L1194.5,727.4 L1197.5,728.4 L1200.5,729.3 L1203.5,730.3 L1206.5,731.2 L1209.5,732.2 L1212.5,733.2 L1215.5,734.1 L1218.5,735.1 L1221.5,736.0 L1224.5,737.0 L1227.5,737.9 L1230.5,738.9 L1233.5,739.9 L1236.5,740.8 L1239.5,741.8 L1242.5,742.8 L1245.5,743.7 L1248.5,744.7 L1251.5,745.7 L1254.5,746.6 L1257.5,747.6 L1260.5,748.6 L1263.5,749.5 L1266.5,750.5 L1269.5,751.5 L1272.5,752.5 L1275.5,753.4 L1278.5,754.4 L1281.5,755.4 L1284.5,756.4 L1287.5,757.4 L1290.5,758.3 L1293.5,759.3 L1296.5,760.3 L1299.5,761.3 L1302.5,762.3 L1305.5,763.3 L1308.5,764.2 L1311.5,765.2 L1314.5,766.2 L1317.5,767.2 L1320.5,768.2 L1323.5,769.2 L1326.5,770.2 L1329.5,771.2 L1332.5,772.2 L1335.5,773.2 L1338.5,774.2 L1341.5,775.2 L1344.5,776.2 L1347.5,777.2 L1350.5,778.2 L1353.5,779.2 L1356.5,780.2 L1359.5,781.2 L1362.5,782.2 L1365.5,783.2 L1368.5,784.3 L1371.5,785.3 L1374.5,786.3 L1377.5,787.3 L1380.5,788.3 L1383.5,789.3 L1386.5,790.4 L1389.5,791.4 L1392.5,792.4 L1395.5,793.4 L1398.5,794.5 L1401.5,795.5 L1404.5,796.5 L1407.5,797.6 L1410.5,798.6 L1413.5,799.6 L1416.5,800.7 L1419.5,801.7 L1422.5,802.7 L1425.5,803.8 L1428.5,804.8 L1431.5,805.9 L1434.5,806.9 L1437.5,808.0 L1440.5,809.0 L1443.5,810.1 L1446.5,811.1 L1449.5,812.2 L1452.5,813.2 L1455.5,814.3 L1458.5,815.4 L1461.5,816.4 L1464.5,817.5 L1467.5,818.5 L1470.5,819.6 L1473.5,820.7 L1476.5,821.8 L1479.5,822.8 L1482.5,823.9 L1485.5,825.0 L1488.5,826.1 L1491.5,827.1 L1494.5,828.2 L1497.5,829.3 L1500.5,830.4 L1503.5,831.5 L1506.5,832.6 L1509.5,833.7 L1512.5,834.8 L1515.5,835.9 L1518.5,837.0 L1521.5,838.1 L1524.5,839.2 L1527.5,840.3 L1530.5,841.4 L1533.5,842.5 L1536.5,843.6 L1539.5,844.7 L1542.5,845.9 L1545.5,847.0 L1548.5,848.1 L1551.5,849.2 L1554.5,850.4 L1557.5,851.5 L1560.5,852.6 L1563.5,853.8 L1566.5,854.9 L1569.5,856.1 L1572.5,857.2 L1575.5,858.3 L1578.5,859.5 L1581.5,860.7 L1584.5,861.8 L1587.5,863.0 L1590.5,864.1 L1593.5,865.3 L1596.5,866.5 L1599.5,867.6 L1602.5,868.8 L1605.5,870.0 L1608.5,871.2 L1611.5,872.4 L1614.5,873.6 L1617.5,874.7 L1620.5,875.9 L1623.5,877.1 L1626.5,878.3 L1629.5,879.5 L1632.5,880.8 L1635.5,882.0 L1638.5,883.2 L1641.5,884.4 L1644.5,885.6 L1647.5,886.9 L1650.5,888.1 L1653.5,889.3 L1656.5,890.6 L1659.5,891.8 L1662.5,893.1 L1665.5,894.3 L1668.5,895.6 L1671.5,896.9 L1674.5,898.1 L1677.5,899.4 L1680.5,900.7 L1683.5,902.0 L1686.5,903.2 L1689.5,904.5 L1692.5,905.8 L1695.5,907.1 L1698.5,908.4 L1701.5,909.7 L1704.5,911.1 L1707.5,912.4 L1710.5,913.7 L1713.5,915.0 L1716.5,916.4 L1719.5,917.7 L1722.5,919.1 L1725.5,920.4 L1728.5,921.8 L1731.5,923.2 L1734.5,924.5 L1737.5,925.9 L1740.5,927.3 L1743.5,928.7 L1746.5,930.1 L1749.5,931.5 L1752.5,932.9 L1755.5,934.3 L1758.5,935.8 L1761.5,937.2 L1764.5,938.6 L1767.5,940.1 L1770.5,941.6 L1773.5,943.0 L1776.5,944.5 L1779.5,946.0 L1782.5,947.5 L1785.5,949.0 L1788.5,950.5 L1791.5,952.0 L1794.5,953.5 L1797.5,955.0 L1800.5,956.6 L1803.5,958.1 L1806.5,959.7 L1809.5,961.2 L1812.5,962.8 L1815.5,964.4 L1818.5,966.0 L1821.5,967.6 L1824.5,969.2 L1827.5,970.8 L1830.5,972.4 L1833.5,974.1 L1836.5,975.7 L1839.5,977.4 L1840.0,977.7" stroke="#960000" stroke-width="8.4" stroke-dasharray="33 21.03 4 21.03" stroke-dashoffset="0.1" clip-path="url(#drclip)"/>
<g fill="#960000"><polygon points="310,435.3 327,435.6 336,438.6 312,438.2"/><polygon points="323,442.2 344,442.8 350.5,446.4 330,446"/><polygon points="460,490.2 482,490.8 490.5,494.6 463,494.2"/><polygon points="477.5,498 496,498.4 500.5,502.4 486,502"/><polygon points="773,592.8 787,593.2 793.5,597 775,596.6"/><polygon points="780.5,600.6 798,601 801.5,604.6 788,604.4"/><polygon points="989.5,663.5 1006,663.9 1015,666.9 992,666.5"/><polygon points="1002,671 1022,671.5 1028.8,674.4 1010,674.2"/></g>
<path class="ln" d="M314.2,169.1 L316.1,169.7 L318.4,170.5 L320.8,171.3 L323.6,172.1 L326.5,173.1 L329.7,174.1 L333.0,175.2 L336.6,176.4 L340.2,177.6 L344.0,178.8 L347.9,180.1 L351.9,181.4 L356.0,182.7 L360.1,184.0 L364.3,185.4 L368.5,186.7 L372.6,188.1 L376.8,189.4 L380.9,190.8 L384.9,192.1 L388.8,193.4 L392.7,194.6 L396.4,195.8 L400.0,197.0 L403.5,198.1 L407.0,199.3 L410.5,200.4 L413.9,201.6 L417.4,202.7 L420.9,203.8 L424.3,205.0 L427.7,206.1 L431.2,207.2 L434.6,208.4 L438.0,209.5 L441.5,210.6 L444.9,211.7 L448.3,212.9 L451.7,214.0 L455.1,215.1 L458.5,216.2 L462.0,217.3 L465.4,218.5 L468.8,219.6 L472.2,220.7 L475.6,221.8 L479.1,222.9 L482.5,224.0 L486.0,225.1 L489.6,226.3 L493.2,227.4 L496.9,228.6 L500.6,229.8 L504.4,231.0 L508.2,232.2 L512.0,233.4 L515.9,234.6 L519.7,235.8 L523.4,237.0 L527.2,238.1 L530.9,239.3 L534.5,240.4 L538.1,241.5 L541.6,242.6 L545.0,243.7 L548.2,244.7 L551.4,245.7 L554.4,246.7 L557.3,247.6 L560.1,248.4 L562.6,249.2 L565.0,250.0 L567.2,250.7 L569.1,251.3 L570.9,251.9 L572.5,252.4 L573.9,252.9 L575.2,253.3 L576.4,253.7 L577.4,254.0 L578.3,254.4 L579.2,254.7 L580.0,254.9 L580.8,255.2 L581.5,255.4 L582.2,255.7 L582.9,255.9 L583.7,256.2 L584.5,256.4 L585.3,256.7 L586.2,257.0 L587.2,257.3 L588.3,257.7 L589.6,258.1 L591.0,258.5 L592.5,259.0 L594.2,259.5 L595.9,260.0 L597.6,260.6 L599.5,261.1 L601.3,261.7 L603.3,262.3 L605.2,262.9 L607.2,263.5 L609.3,264.1 L611.4,264.7 L613.5,265.4 L615.7,266.0 L617.8,266.6 L620.0,267.3 L622.3,268.0 L624.5,268.6 L626.8,269.3 L629.1,270.0 L631.4,270.6 L633.7,271.3 L636.0,272.0 L638.4,272.7 L640.7,273.3 L643.0,274.0 L645.4,274.7 L647.8,275.4 L650.4,276.1 L653.0,276.9 L655.7,277.6 L658.4,278.4 L661.2,279.2 L664.0,280.0 L666.8,280.8 L669.6,281.5 L672.5,282.3 L675.3,283.1 L678.1,283.9 L680.8,284.7 L683.5,285.4 L686.2,286.1 L688.7,286.9 L691.2,287.5 L693.7,288.2 L696.0,288.8 L698.2,289.4 L700.2,290.0 L702.2,290.5 L704.0,291.0 L705.7,291.4 L707.2,291.8 L708.5,292.2 L709.8,292.4 L711.0,292.7 L712.0,292.9 L713.0,293.1 L713.9,293.3 L714.7,293.4 L715.4,293.6 L716.1,293.7 L716.8,293.8 L717.5,293.9 L718.1,294.0 L718.7,294.1 L719.4,294.3 L720.0,294.4 L720.7,294.5 L721.4,294.7 L722.2,294.9 L723.0,295.1 L723.9,295.4 L724.9,295.7 L726.0,296.0 L727.1,296.4 L728.3,296.8 L729.4,297.2 L730.6,297.6 L731.7,298.1 L732.9,298.5 L734.1,299.0 L735.3,299.5 L736.6,300.0 L737.8,300.5 L739.1,301.1 L740.4,301.6 L741.7,302.1 L743.0,302.7 L744.4,303.2 L745.8,303.8 L747.2,304.3 L748.6,304.9 L750.1,305.4 L751.6,305.9 L753.2,306.5 L754.7,307.0 L756.4,307.5 L758.0,308.0 L759.7,308.5 L761.4,308.9 L763.1,309.4 L764.8,309.8 L766.5,310.3 L768.3,310.7 L770.0,311.1 L771.9,311.5 L773.7,312.0 L775.5,312.4 L777.4,312.8 L779.4,313.2 L781.3,313.7 L783.3,314.1 L785.4,314.6 L787.5,315.0 L789.6,315.5 L791.8,316.0 L794.0,316.5 L796.3,317.1 L798.6,317.6 L801.0,318.2 L803.5,318.8 L806.0,319.5 L808.6,320.2 L811.5,321.0 L814.5,321.8 L817.7,322.6 L821.0,323.5 L824.4,324.5 L827.9,325.4 L831.5,326.4 L835.1,327.4 L838.7,328.4 L842.4,329.5 L846.0,330.5 L849.6,331.5 L853.1,332.5 L856.5,333.4 L859.9,334.4 L863.0,335.2 L866.1,336.1 L869.0,336.9 L871.6,337.7 L874.1,338.4 L876.3,339.0 L878.3,339.5 L880.0,340.0" stroke="#a0a0a0" stroke-width="9" stroke-dasharray="9.7 19.1" stroke-dashoffset="0"/>
<path class="ln" d="M880.0,340.0 L880.4,340.1 L880.9,340.3 L881.4,340.4 L881.9,340.6 L882.4,340.7 L883.0,340.9 L883.6,341.1 L884.2,341.3 L884.9,341.5 L885.6,341.7 L886.3,341.9 L887.1,342.1 L887.9,342.4 L888.8,342.6 L889.7,342.9 L890.7,343.2 L891.7,343.5 L892.7,343.8 L893.8,344.1 L894.9,344.5 L896.1,344.8 L897.4,345.2 L898.7,345.6 L900.0,346.0 L901.4,346.4 L902.9,346.9 L904.4,347.4 L906.0,347.9 L907.7,348.4 L909.4,349.0 L911.2,349.6 L913.0,350.1 L914.9,350.8 L916.8,351.4 L918.8,352.0 L920.8,352.6 L922.8,353.3 L924.8,353.9 L926.9,354.5 L929.0,355.2 L931.1,355.8 L933.2,356.5 L935.3,357.1 L937.5,357.7 L939.6,358.3 L941.7,358.9 L943.9,359.4 L946.0,360.0 L948.1,360.5 L950.2,361.1 L952.3,361.6 L954.4,362.1 L956.5,362.6 L958.7,363.1 L960.8,363.6 L962.9,364.1 L965.1,364.6 L967.2,365.1 L969.4,365.6 L971.7,366.1 L973.9,366.6 L976.2,367.1 L978.5,367.6 L980.9,368.1 L983.4,368.6 L985.8,369.0 L988.4,369.5 L991.0,370.0 L993.6,370.5 L996.3,371.0 L999.1,371.5 L1002.0,372.0 L1005.0,372.5 L1008.0,373.0 L1011.1,373.5 L1014.3,374.0 L1017.6,374.6 L1021.0,375.1 L1024.4,375.6 L1027.8,376.1 L1031.3,376.7 L1034.9,377.2 L1038.5,377.7 L1042.1,378.2 L1045.7,378.7 L1049.4,379.2 L1053.1,379.8 L1056.7,380.3 L1060.4,380.8 L1064.1,381.2 L1067.7,381.7 L1071.3,382.2 L1074.9,382.7 L1078.5,383.1 L1082.0,383.6 L1085.5,384.0 L1089.0,384.4 L1092.4,384.8 L1095.8,385.2 L1099.3,385.6 L1102.7,386.0 L1106.1,386.4 L1109.6,386.8 L1113.0,387.2 L1116.4,387.5 L1119.8,387.9 L1123.2,388.2 L1126.7,388.6 L1130.1,388.9 L1133.5,389.3 L1136.9,389.6 L1140.4,389.9 L1143.8,390.3 L1147.2,390.6 L1150.7,390.9 L1154.1,391.2 L1157.6,391.6 L1161.0,391.9 L1164.5,392.2 L1168.0,392.5 L1171.5,392.8 L1175.0,393.1 L1178.5,393.4 L1182.0,393.7 L1185.5,394.0 L1189.0,394.3 L1192.5,394.6 L1196.0,394.9 L1199.5,395.1 L1203.0,395.4 L1206.5,395.7 L1210.0,396.0 L1213.6,396.2 L1217.1,396.5 L1220.6,396.8 L1224.2,397.0 L1227.8,397.3 L1231.3,397.5 L1234.9,397.8 L1238.5,398.0 L1242.1,398.3 L1245.7,398.5 L1249.4,398.8 L1253.0,399.0 L1256.6,399.2 L1260.3,399.5 L1263.9,399.7 L1267.5,399.9 L1271.1,400.1 L1274.7,400.4 L1278.3,400.6 L1281.9,400.8 L1285.5,401.0 L1289.1,401.2 L1292.8,401.4 L1296.4,401.6 L1300.1,401.8 L1303.8,402.0 L1307.6,402.2 L1311.3,402.4 L1315.1,402.6 L1319.0,402.8 L1322.9,403.0 L1326.8,403.2 L1330.8,403.4 L1334.8,403.6 L1338.9,403.8 L1343.0,404.0 L1347.2,404.2 L1351.5,404.4 L1355.9,404.6 L1360.3,404.8 L1364.8,405.1 L1369.3,405.3 L1373.9,405.5 L1378.6,405.7 L1383.2,405.9 L1387.9,406.1 L1392.6,406.3 L1397.4,406.6 L1402.1,406.8 L1406.9,407.0 L1411.6,407.2 L1416.3,407.4 L1421.0,407.6 L1425.7,407.8 L1430.4,408.0 L1435.0,408.2 L1439.6,408.4 L1444.1,408.6 L1448.6,408.8 L1453.0,409.0 L1457.4,409.2 L1461.7,409.4 L1466.0,409.6 L1470.2,409.7 L1474.5,409.9 L1478.7,410.1 L1482.9,410.3 L1487.1,410.5 L1491.2,410.6 L1495.4,410.8 L1499.5,411.0 L1503.6,411.2 L1507.7,411.3 L1511.8,411.5 L1515.9,411.7 L1520.0,411.8 L1524.1,412.0 L1528.2,412.1 L1532.3,412.3 L1536.4,412.4 L1540.6,412.6 L1544.7,412.7 L1548.8,412.9 L1553.0,413.0 L1557.2,413.1 L1561.3,413.3 L1565.5,413.4 L1569.7,413.5 L1573.8,413.6 L1578.0,413.7 L1582.2,413.9 L1586.3,414.0 L1590.5,414.1 L1594.7,414.2 L1598.8,414.3 L1603.0,414.4 L1607.2,414.5 L1611.3,414.6 L1615.5,414.7 L1619.7,414.8 L1623.8,414.9 L1628.0,414.9 L1632.2,415.0 L1636.3,415.1 L1640.5,415.2 L1644.7,415.3 L1648.8,415.4 L1653.0,415.5 L1657.2,415.6 L1661.4,415.7 L1665.6,415.8 L1669.8,415.9 L1674.1,415.9 L1678.4,416.0 L1682.6,416.1 L1686.9,416.2 L1691.2,416.3 L1695.4,416.3 L1699.7,416.4 L1703.9,416.5 L1708.2,416.6 L1712.4,416.7 L1716.6,416.7 L1720.8,416.8 L1724.9,416.9 L1729.1,417.0 L1733.1,417.1 L1737.2,417.1 L1741.2,417.2 L1745.2,417.3 L1749.1,417.4 L1753.0,417.5 L1756.9,417.6 L1760.9,417.7 L1764.9,417.8 L1769.0,417.9 L1773.1,418.0 L1777.3,418.1 L1781.5,418.3 L1785.6,418.4 L1789.7,418.5 L1793.8,418.6 L1797.8,418.8 L1801.8,418.9 L1805.6,419.0 L1809.4,419.1 L1813.0,419.2 L1816.5,419.3 L1819.9,419.4 L1823.1,419.5 L1826.1,419.6 L1828.9,419.7 L1831.5,419.8 L1833.9,419.9 L1836.1,419.9 L1838.0,420.0" stroke="#a0a0a0" stroke-width="9" stroke-dasharray="9.7 18.55" stroke-dashoffset="6.5"/>
<path class="ln" d="M315.4,100.6 L317.3,101.3 L319.5,102.1 L321.9,102.9 L324.6,103.9 L327.5,105.0 L330.6,106.1 L333.9,107.3 L337.4,108.5 L341.0,109.8 L344.7,111.1 L348.5,112.5 L352.4,113.9 L356.5,115.4 L360.5,116.8 L364.6,118.3 L368.7,119.8 L372.8,121.2 L376.9,122.7 L381.0,124.2 L385.0,125.6 L388.9,127.0 L392.7,128.4 L396.4,129.7 L400.0,131.0 L403.5,132.3 L407.0,133.5 L410.5,134.8 L414.0,136.0 L417.5,137.3 L421.0,138.6 L424.5,139.8 L428.0,141.1 L431.5,142.3 L435.0,143.6 L438.5,144.9 L442.0,146.1 L445.5,147.4 L449.0,148.6 L452.5,149.9 L455.9,151.1 L459.4,152.4 L462.9,153.6 L466.4,154.9 L469.9,156.1 L473.5,157.3 L477.0,158.6 L480.5,159.8 L484.0,161.0 L487.6,162.2 L491.2,163.5 L494.9,164.7 L498.7,166.0 L502.5,167.3 L506.3,168.6 L510.2,169.9 L514.1,171.2 L518.0,172.5 L521.8,173.8 L525.7,175.1 L529.5,176.3 L533.3,177.6 L537.0,178.8 L540.7,180.1 L544.3,181.2 L547.8,182.4 L551.2,183.5 L554.5,184.6 L557.7,185.7 L560.7,186.7 L563.6,187.7 L566.4,188.6 L569.0,189.5 L571.4,190.3 L573.7,191.1 L575.8,191.8 L577.7,192.5 L579.5,193.1 L581.2,193.6 L582.7,194.2 L584.2,194.7 L585.6,195.2 L586.9,195.6 L588.1,196.1 L589.3,196.5 L590.5,196.9 L591.6,197.3 L592.8,197.7 L593.9,198.1 L595.1,198.5 L596.3,198.9 L597.6,199.4 L598.9,199.8 L600.3,200.3 L601.7,200.8 L603.3,201.3 L605.0,201.9 L606.7,202.5 L608.5,203.1 L610.2,203.6 L611.9,204.2 L613.6,204.8 L615.3,205.3 L617.0,205.9 L618.8,206.5 L620.5,207.1 L622.3,207.6 L624.1,208.2 L626.0,208.9 L627.9,209.5 L629.8,210.1 L631.8,210.8 L633.9,211.5 L636.0,212.2 L638.2,212.9 L640.4,213.7 L642.8,214.5 L645.2,215.3 L647.7,216.2 L650.3,217.1 L653.0,218.0 L655.8,219.0 L658.7,220.0 L661.8,221.2 L664.9,222.3 L668.1,223.5 L671.4,224.8 L674.8,226.0 L678.3,227.3 L681.8,228.7 L685.4,230.0 L689.0,231.4 L692.7,232.8 L696.4,234.1 L700.1,235.5 L703.8,236.9 L707.6,238.2 L711.3,239.6 L715.1,240.9 L718.8,242.2 L722.5,243.4 L726.2,244.6 L729.9,245.8 L733.5,246.9 L737.0,248.0 L740.6,249.0 L744.2,250.0 L747.8,251.0 L751.5,252.0 L755.2,252.9 L759.0,253.8 L762.7,254.7 L766.5,255.6 L770.3,256.5 L774.1,257.3 L777.8,258.1 L781.6,258.9 L785.3,259.7 L788.9,260.5 L792.6,261.3 L796.1,262.1 L799.7,262.8 L803.1,263.6 L806.5,264.3 L809.8,265.1 L813.0,265.8 L816.1,266.5 L819.1,267.3 L822.0,268.0 L824.8,268.7 L827.5,269.5 L830.2,270.2 L832.8,270.9 L835.3,271.6 L837.8,272.3 L840.2,273.0 L842.6,273.7 L844.9,274.3 L847.1,275.0 L849.3,275.7 L851.4,276.3 L853.5,276.9 L855.5,277.6 L857.5,278.2 L859.4,278.8 L861.3,279.4 L863.1,279.9 L864.9,280.5 L866.6,281.0 L868.2,281.5 L869.9,282.0 L871.5,282.5 L873.0,283.0 L874.4,283.4 L875.7,283.9 L876.9,284.2 L877.9,284.6 L878.9,284.9 L879.7,285.2 L880.5,285.5 L881.1,285.8 L881.8,286.1 L882.4,286.3 L883.0,286.6 L883.6,286.8 L884.1,287.0 L884.7,287.2 L885.4,287.5 L886.1,287.7 L886.8,288.0 L887.6,288.2 L888.6,288.5 L889.6,288.7 L890.7,289.0 L892.0,289.3 L893.4,289.6 L895.0,290.0 L896.7,290.4 L898.4,290.7 L900.2,291.1 L902.1,291.5 L904.0,291.9 L906.0,292.3 L908.0,292.7 L910.1,293.1 L912.3,293.5 L914.5,294.0 L916.8,294.4 L919.1,294.8 L921.5,295.3 L924.0,295.7 L926.6,296.2 L929.2,296.6 L931.9,297.1 L934.7,297.6 L937.6,298.0 L940.5,298.5 L943.5,299.0 L946.6,299.4 L949.7,299.9 L953.0,300.4 L956.4,300.9 L959.9,301.4 L963.5,301.9 L967.2,302.4 L971.1,303.0 L975.0,303.5 L979.1,304.1 L983.2,304.6 L987.4,305.2 L991.7,305.8 L996.0,306.3 L1000.4,306.9 L1004.8,307.5 L1009.2,308.0 L1013.7,308.6 L1018.1,309.2 L1022.6,309.7 L1027.0,310.2 L1031.4,310.8 L1035.8,311.3 L1040.2,311.8 L1044.5,312.3 L1048.8,312.7 L1053.0,313.2 L1057.2,313.6 L1061.3,314.1 L1065.5,314.5 L1069.7,314.9 L1073.8,315.3 L1078.0,315.7 L1082.2,316.1 L1086.3,316.5 L1090.5,316.9 L1094.7,317.2 L1098.8,317.6 L1103.0,317.9 L1107.2,318.3 L1111.3,318.6 L1115.5,319.0 L1119.7,319.3 L1123.8,319.6 L1128.0,320.0 L1132.2,320.3 L1136.3,320.6 L1140.5,320.9 L1144.7,321.2 L1148.8,321.5 L1153.0,321.8 L1157.2,322.1 L1161.3,322.4 L1165.5,322.7 L1169.7,322.9 L1173.8,323.2 L1178.0,323.4 L1182.2,323.7 L1186.3,323.9 L1190.5,324.2 L1194.7,324.4 L1198.8,324.7 L1203.0,324.9 L1207.2,325.1 L1211.3,325.3 L1215.5,325.5 L1219.7,325.8 L1223.8,326.0 L1228.0,326.2 L1232.2,326.4 L1236.3,326.6 L1240.5,326.8 L1244.7,327.0 L1248.8,327.2 L1253.0,327.4 L1257.2,327.6 L1261.3,327.8 L1265.5,328.0 L1269.7,328.2 L1273.8,328.3 L1278.0,328.5 L1282.2,328.7 L1286.3,328.9 L1290.5,329.0 L1294.7,329.2 L1298.8,329.4 L1303.0,329.5 L1307.2,329.7 L1311.3,329.8 L1315.5,330.0 L1319.7,330.2 L1323.8,330.3 L1328.0,330.5 L1332.2,330.6 L1336.3,330.8 L1340.5,330.9 L1344.7,331.1 L1348.8,331.2 L1353.0,331.4 L1357.2,331.6 L1361.3,331.7 L1365.5,331.9 L1369.7,332.0 L1373.8,332.2 L1378.0,332.3 L1382.2,332.5 L1386.3,332.6 L1390.5,332.8 L1394.7,332.9 L1398.8,333.1 L1403.0,333.2 L1407.2,333.4 L1411.3,333.5 L1415.5,333.7 L1419.7,333.8 L1423.8,334.0 L1428.0,334.1 L1432.2,334.2 L1436.3,334.4 L1440.5,334.5 L1444.7,334.6 L1448.8,334.8 L1453.0,334.9 L1457.2,335.0 L1461.3,335.1 L1465.5,335.3 L1469.7,335.4 L1473.8,335.5 L1478.0,335.6 L1482.2,335.7 L1486.3,335.8 L1490.5,335.9 L1494.7,336.0 L1498.8,336.1 L1503.0,336.2 L1507.2,336.3 L1511.3,336.4 L1515.5,336.5 L1519.7,336.6 L1523.8,336.7 L1528.0,336.8 L1532.2,336.9 L1536.3,337.0 L1540.5,337.1 L1544.7,337.2 L1548.8,337.3 L1553.0,337.4 L1557.2,337.5 L1561.3,337.6 L1565.5,337.7 L1569.7,337.8 L1573.8,337.9 L1578.0,338.0 L1582.2,338.1 L1586.3,338.2 L1590.5,338.3 L1594.7,338.5 L1598.8,338.6 L1603.0,338.7 L1607.2,338.8 L1611.3,338.9 L1615.5,339.0 L1619.7,339.1 L1623.8,339.2 L1628.0,339.3 L1632.2,339.4 L1636.3,339.5 L1640.5,339.5 L1644.7,339.6 L1648.8,339.7 L1653.0,339.8 L1657.2,339.9 L1661.4,340.0 L1665.6,340.0 L1669.8,340.1 L1674.1,340.2 L1678.4,340.2 L1682.6,340.3 L1686.9,340.4 L1691.2,340.4 L1695.4,340.5 L1699.7,340.6 L1703.9,340.6 L1708.2,340.7 L1712.4,340.7 L1716.6,340.8 L1720.8,340.8 L1724.9,340.9 L1729.1,341.0 L1733.1,341.0 L1737.2,341.1 L1741.2,341.1 L1745.2,341.2 L1749.1,341.2 L1753.0,341.3 L1756.9,341.4 L1760.9,341.4 L1764.9,341.5 L1769.0,341.5 L1773.1,341.6 L1777.3,341.7 L1781.5,341.7 L1785.6,341.8 L1789.7,341.9 L1793.8,341.9 L1797.8,342.0 L1801.8,342.0 L1805.6,342.1 L1809.4,342.2 L1813.0,342.2 L1816.5,342.3 L1819.9,342.3 L1823.1,342.4 L1826.1,342.4 L1828.9,342.5 L1831.5,342.5 L1833.9,342.5 L1836.1,342.6 L1838.0,342.6" stroke="#0000ff" stroke-width="9" stroke-dasharray="0.5 12.3" stroke-dashoffset="0"/>
<path class="ln" d="M315.5,222.2 L319.3,222.2 L323.6,222.2 L328.5,222.3 L333.8,222.3 L339.6,222.3 L345.8,222.4 L352.3,222.4 L359.2,222.4 L366.3,222.5 L373.7,222.5 L381.4,222.6 L389.2,222.6 L397.2,222.6 L405.2,222.7 L413.4,222.7 L421.6,222.8 L429.7,222.8 L437.9,222.9 L446.0,222.9 L453.9,223.0 L461.8,223.0 L469.4,223.1 L476.8,223.1 L484.0,223.2 L491.1,223.3 L498.1,223.3 L505.3,223.4 L512.4,223.4 L519.6,223.5 L526.7,223.5 L533.9,223.6 L541.1,223.7 L548.3,223.7 L555.5,223.8 L562.7,223.8 L569.8,223.9 L577.0,224.0 L584.1,224.0 L591.2,224.1 L598.3,224.2 L605.3,224.2 L612.3,224.3 L619.2,224.4 L626.1,224.5 L632.9,224.6 L639.7,224.6 L646.4,224.7 L653.0,224.8 L659.5,224.9 L666.0,225.0 L672.4,225.1 L678.7,225.2 L685.0,225.2 L691.2,225.3 L697.3,225.4 L703.4,225.5 L709.5,225.6 L715.5,225.7 L721.5,225.8 L727.5,225.9 L733.5,226.0 L739.4,226.1 L745.4,226.2 L751.4,226.3 L757.3,226.5 L763.3,226.6 L769.4,226.7 L775.4,226.8 L781.5,226.9 L787.6,227.0 L793.8,227.2 L800.0,227.3 L806.3,227.4 L812.8,227.6 L819.4,227.7 L826.1,227.9 L832.8,228.0 L839.7,228.2 L846.5,228.4 L853.4,228.5 L860.4,228.7 L867.3,228.9 L874.2,229.0 L881.0,229.2 L887.8,229.4 L894.5,229.6 L901.1,229.7 L907.6,229.9 L913.9,230.0 L920.1,230.2 L926.1,230.4 L931.9,230.5 L937.6,230.6 L943.0,230.8 L948.1,230.9 L953.0,231.0 L957.6,231.1 L962.0,231.2 L966.1,231.3 L970.0,231.4 L973.7,231.4 L977.2,231.5 L980.6,231.6 L983.8,231.6 L986.8,231.7 L989.8,231.7 L992.6,231.8 L995.4,231.8 L998.1,231.9 L1000.7,231.9 L1003.3,232.0 L1005.9,232.0 L1008.5,232.1 L1011.1,232.1 L1013.7,232.2 L1016.4,232.2 L1019.2,232.3 L1022.0,232.3 L1024.9,232.4 L1028.0,232.5 L1031.1,232.6 L1034.2,232.7 L1037.4,232.8 L1040.5,232.8 L1043.6,232.9 L1046.8,233.0 L1049.9,233.1 L1053.0,233.2 L1056.1,233.3 L1059.2,233.4 L1062.4,233.5 L1065.5,233.6 L1068.6,233.7 L1071.8,233.8 L1074.9,233.9 L1078.0,234.1 L1081.1,234.2 L1084.2,234.3 L1087.4,234.4 L1090.5,234.5 L1093.6,234.6 L1096.8,234.8 L1099.9,234.9 L1103.0,235.0 L1106.1,235.1 L1109.2,235.2 L1112.2,235.4 L1115.2,235.5 L1118.2,235.6 L1121.2,235.7 L1124.1,235.9 L1127.1,236.0 L1130.0,236.1 L1133.0,236.2 L1136.0,236.4 L1138.9,236.5 L1141.9,236.6 L1145.0,236.8 L1148.0,236.9 L1151.1,237.1 L1154.3,237.2 L1157.5,237.4 L1160.7,237.6 L1164.1,237.7 L1167.4,237.9 L1170.9,238.1 L1174.4,238.3 L1178.0,238.5 L1181.7,238.7 L1185.5,238.9 L1189.3,239.2 L1193.2,239.4 L1197.2,239.6 L1201.2,239.9 L1205.3,240.1 L1209.5,240.4 L1213.7,240.7 L1217.9,240.9 L1222.2,241.2 L1226.4,241.5 L1230.7,241.8 L1235.1,242.1 L1239.4,242.4 L1243.7,242.6 L1248.1,242.9 L1252.4,243.2 L1256.7,243.5 L1261.0,243.8 L1265.3,244.1 L1269.6,244.4 L1273.8,244.7 L1278.0,245.0 L1282.2,245.3 L1286.4,245.6 L1290.7,245.9 L1295.0,246.2 L1299.3,246.5 L1303.6,246.8 L1307.9,247.1 L1312.3,247.4 L1316.6,247.7 L1320.9,248.1 L1325.3,248.4 L1329.6,248.7 L1333.8,249.0 L1338.1,249.3 L1342.3,249.6 L1346.5,250.0 L1350.7,250.3 L1354.8,250.6 L1358.8,250.9 L1362.8,251.2 L1366.7,251.6 L1370.5,251.9 L1374.3,252.2 L1378.0,252.5 L1381.6,252.8 L1385.1,253.1 L1388.6,253.4 L1391.9,253.7 L1395.3,254.0 L1398.5,254.3 L1401.7,254.6 L1404.9,254.9 L1408.0,255.2 L1411.0,255.5 L1414.1,255.8 L1417.1,256.1 L1420.0,256.4 L1423.0,256.7 L1426.0,257.0 L1428.9,257.3 L1431.9,257.6 L1434.8,257.9 L1437.8,258.3 L1440.8,258.6 L1443.8,258.9 L1446.8,259.3 L1449.9,259.6 L1453.0,260.0 L1456.1,260.4 L1459.2,260.7 L1462.4,261.1 L1465.5,261.5 L1468.6,261.9 L1471.8,262.3 L1474.9,262.7 L1478.0,263.1 L1481.1,263.5 L1484.2,263.9 L1487.4,264.4 L1490.5,264.8 L1493.6,265.2 L1496.8,265.6 L1499.9,266.1 L1503.0,266.5 L1506.1,266.9 L1509.2,267.4 L1512.4,267.8 L1515.5,268.2 L1518.6,268.7 L1521.8,269.1 L1524.9,269.6 L1528.0,270.0 L1531.1,270.4 L1534.2,270.9 L1537.4,271.3 L1540.5,271.7 L1543.6,272.2 L1546.8,272.6 L1549.9,273.0 L1553.0,273.5 L1556.1,273.9 L1559.2,274.4 L1562.4,274.8 L1565.5,275.2 L1568.6,275.7 L1571.8,276.2 L1574.9,276.6 L1578.0,277.1 L1581.1,277.5 L1584.2,278.0 L1587.4,278.5 L1590.5,279.0 L1593.6,279.5 L1596.8,280.0 L1599.9,280.5 L1603.0,281.0 L1606.2,281.5 L1609.4,282.1 L1612.6,282.6 L1616.0,283.2 L1619.3,283.7 L1622.7,284.3 L1626.1,284.9 L1629.5,285.5 L1632.9,286.1 L1636.3,286.7 L1639.7,287.3 L1643.0,287.9 L1646.3,288.5 L1649.6,289.1 L1652.8,289.7 L1656.0,290.3 L1659.1,290.9 L1662.1,291.5 L1665.0,292.1 L1667.8,292.7 L1670.5,293.3 L1673.2,293.9 L1675.6,294.4 L1678.0,295.0 L1680.2,295.5 L1682.3,296.1 L1684.3,296.6 L1686.1,297.2 L1687.8,297.7 L1689.4,298.2 L1691.0,298.8 L1692.4,299.3 L1693.8,299.8 L1695.2,300.3 L1696.4,300.8 L1697.7,301.3 L1698.9,301.9 L1700.1,302.4 L1701.3,302.9 L1702.4,303.4 L1703.6,303.9 L1704.8,304.4 L1706.1,304.9 L1707.3,305.4 L1708.7,305.9 L1710.0,306.5 L1711.5,307.0 L1713.0,307.5 L1714.6,308.0 L1716.1,308.5 L1717.7,309.0 L1719.3,309.5 L1720.9,310.0 L1722.5,310.4 L1724.2,310.9 L1725.8,311.4 L1727.4,311.9 L1729.1,312.3 L1730.7,312.8 L1732.4,313.3 L1734.0,313.8 L1735.7,314.3 L1737.4,314.8 L1739.1,315.3 L1740.8,315.8 L1742.5,316.3 L1744.3,316.9 L1746.0,317.5 L1747.7,318.1 L1749.5,318.7 L1751.2,319.3 L1753.0,320.0 L1754.8,320.7 L1756.6,321.4 L1758.4,322.1 L1760.3,322.9 L1762.1,323.7 L1764.0,324.5 L1765.9,325.3 L1767.8,326.1 L1769.7,327.0 L1771.6,327.8 L1773.6,328.7 L1775.5,329.5 L1777.4,330.4 L1779.4,331.3 L1781.3,332.2 L1783.2,333.1 L1785.1,333.9 L1787.0,334.8 L1788.9,335.7 L1790.7,336.6 L1792.6,337.4 L1794.4,338.3 L1796.2,339.2 L1798.0,340.0 L1799.8,340.8 L1801.6,341.7 L1803.5,342.6 L1805.4,343.6 L1807.3,344.5 L1809.3,345.5 L1811.2,346.4 L1813.2,347.4 L1815.1,348.4 L1817.0,349.3 L1818.9,350.3 L1820.8,351.2 L1822.6,352.2 L1824.4,353.1 L1826.1,354.0 L1827.8,354.8 L1829.4,355.6 L1830.9,356.4 L1832.4,357.1 L1833.7,357.8 L1834.9,358.5 L1836.1,359.0 L1837.1,359.5 L1838.0,360.0" stroke="#ff0000" stroke-width="8.4" stroke-dasharray="22.6 21.3 3.9 21.3 3.9 22" stroke-dashoffset="0"/>
<g fill="#0000ff"><use href="#star" x="627.8" y="204.0"/><use href="#star" x="642.4" y="211.0"/><use href="#star" x="668.9" y="225.7"/><use href="#star" x="687.4" y="230.8"/><use href="#star" x="700.8" y="240.0"/><use href="#star" x="718.4" y="240.8"/><use href="#star" x="743.6" y="251.8"/><use href="#star" x="761.3" y="251.0"/><use href="#star" x="796.8" y="261.0"/><use href="#star" x="830.4" y="266.0"/><use href="#star" x="856.1" y="272.0"/><use href="#star" x="873.7" y="286.0"/><polygon points="645.3,194.8 657.9,195.1 660,201.9 661.8,206 661.8,216 645.3,216"/><polygon points="673.9,210.8 678.9,211 681,209.1 683.1,210.8 684.8,210.8 685.6,216.2 673.9,216.2"/></g>
</g>
<text class="tick" transform="translate(315.70,1241.00) scale(0.955,1)" text-anchor="middle">0</text>
<text class="tick" transform="translate(486.47,1241.00) scale(0.955,1)" text-anchor="middle">10</text>
<text class="tick" transform="translate(653.59,1241.00) scale(0.955,1)" text-anchor="middle">20</text>
<text class="tick" transform="translate(822.87,1241.00) scale(0.955,1)" text-anchor="middle">30</text>
<text class="tick" transform="translate(992.04,1241.00) scale(0.955,1)" text-anchor="middle">40</text>
<text class="tick" transform="translate(1160.71,1241.00) scale(0.955,1)" text-anchor="middle">50</text>
<text class="tick" transform="translate(1329.88,1241.00) scale(0.955,1)" text-anchor="middle">60</text>
<text class="tick" transform="translate(1499.90,1241.00) scale(0.955,1)" text-anchor="middle">70</text>
<text class="tick" transform="translate(1670.53,1241.00) scale(0.955,1)" text-anchor="middle">80</text>
<text class="tick" transform="translate(1838.85,1241.00) scale(0.955,1)" text-anchor="middle">90</text>
<text class="tick" transform="translate(248.00,1177.20) scale(0.955,1)" text-anchor="end">10<tspan class="sup" dy="-36.5">4</tspan></text>
<text class="tick" transform="translate(248.00,910.35) scale(0.955,1)" text-anchor="end">10<tspan class="sup" dy="-36.5">5</tspan></text>
<text class="tick" transform="translate(248.00,643.50) scale(0.955,1)" text-anchor="end">10<tspan class="sup" dy="-36.5">6</tspan></text>
<text class="tick" transform="translate(248.00,376.65) scale(0.955,1)" text-anchor="end">10<tspan class="sup" dy="-36.5">7</tspan></text>
<text class="tick" transform="translate(248.00,109.80) scale(0.955,1)" text-anchor="end">10<tspan class="sup" dy="-36.5">8</tspan></text>
<text class="ttl" transform="translate(1071.30,1335.30) scale(0.985,1)" text-anchor="middle">T (<tspan font-size="54" dy="-35">o</tspan><tspan dy="35">C)</tspan></text>
<text class="ttl" transform="translate(100.9,636.2) rotate(-90) scale(1.026,1)" text-anchor="middle">P<tspan font-size="53" dy="25">th</tspan><tspan dy="-25">(Pa)</tspan></text>
<g shape-rendering="crispEdges">
<line x1="1247.2" y1="158.7" x2="1225.1" y2="193.7" stroke="#000" stroke-width="2.8"/>
<polygon points="1211.8,214.9 1219.8,188.1 1232.5,196.1" fill="#000"/>
<line x1="1139.9" y1="454.9" x2="1112.2" y2="421.6" stroke="#000" stroke-width="2.8"/>
<polygon points="1096.2,402.4 1119.2,418.4 1107.7,427.9" fill="#000"/>
<line x1="1558.6" y1="468.6" x2="1542.7" y2="386.5" stroke="#000" stroke-width="2.8"/>
<polygon points="1537.9,362.0 1550.4,387.1 1535.7,389.9" fill="#000"/>
<line x1="458.9" y1="572.0" x2="499.1" y2="541.4" stroke="#000" stroke-width="2.8"/>
<polygon points="519.0,526.2 502.1,548.5 493.0,536.6" fill="#000"/>
<line x1="1388.6" y1="640.3" x2="1354.8" y2="666.1" stroke="#000" stroke-width="2.8"/>
<polygon points="1334.9,681.2 1351.8,658.9 1360.9,670.8" fill="#000"/>
<line x1="1040.7" y1="772.7" x2="1058.4" y2="800.8" stroke="#000" stroke-width="2.8"/>
<polygon points="1071.8,821.9 1051.0,803.1 1063.7,795.1" fill="#000"/>
</g>
<text class="ann" transform="translate(1287.00,154.50) scale(0.95,1)" text-anchor="middle">13</text>
<text class="ann" transform="translate(1161.50,503.50) scale(0.95,1)" text-anchor="middle">5</text>
<text class="ann" transform="translate(1576.00,533.00) scale(0.95,1)" text-anchor="middle">6</text>
<text class="ann" transform="translate(432.50,623.50) scale(0.95,1)" text-anchor="middle">4</text>
<text class="ann" transform="translate(1416.50,640.50) scale(0.95,1)" text-anchor="middle">2</text>
<text class="ann" transform="translate(1023.00,763.50) scale(0.95,1)" text-anchor="middle">1</text>
<rect x="299.5" y="946.5" width="946.0" height="167.0" fill="#fff" stroke="#000" stroke-width="3" shape-rendering="crispEdges"/>
<g shape-rendering="crispEdges">
<use href="#ltri" x="345" y="995.8" fill="#ff8000"/>
<rect x="568.1" y="976.9" width="38" height="38" fill="#000"/>
<use href="#dia" x="827.5" y="996.5" fill="#ff0000"/>
<use href="#circ" x="1066.6" y="995.9"/>
<use href="#lhex" x="345" y="1082.9" fill="#960000"/>
<use href="#utri" x="584.9" y="1083.2" fill="#a0a0a0"/>
<use href="#star" x="824.7" y="1083.4" fill="#0000ff"/>
</g>
<text class="leg" transform="translate(411.00,1009.10) scale(0.945,1)" text-anchor="start"><tspan dy="3.7">[</tspan><tspan dy="-3.7">45</tspan><tspan dy="3.7">]</tspan></text>
<text class="leg" transform="translate(649.30,1009.10) scale(0.945,1)" text-anchor="start"><tspan dy="3.7">[</tspan><tspan dy="-3.7">46</tspan><tspan dy="3.7">]</tspan></text>
<text class="leg" transform="translate(889.80,1009.10) scale(0.945,1)" text-anchor="start"><tspan dy="3.7">[</tspan><tspan dy="-3.7">16</tspan><tspan dy="3.7">]</tspan></text>
<text class="leg" transform="translate(1129.80,1009.10) scale(0.945,1)" text-anchor="start"><tspan dy="3.7">[</tspan><tspan dy="-3.7">44</tspan><tspan dy="3.7">]</tspan></text>
<text class="leg" transform="translate(408.00,1096.60) scale(0.945,1)" text-anchor="start"><tspan dy="3.7">[</tspan><tspan dy="-3.7">43</tspan><tspan dy="3.7">]</tspan></text>
<text class="leg" transform="translate(646.30,1096.60) scale(0.945,1)" text-anchor="start"><tspan dy="3.7">[</tspan><tspan dy="-3.7">43</tspan><tspan dy="3.7">]</tspan></text>
<text class="leg" transform="translate(887.80,1096.60) scale(0.945,1)" text-anchor="start"><tspan dy="3.7">[</tspan><tspan dy="-3.7">43</tspan><tspan dy="3.7">]</tspan></text>
</svg>
</body></html>
